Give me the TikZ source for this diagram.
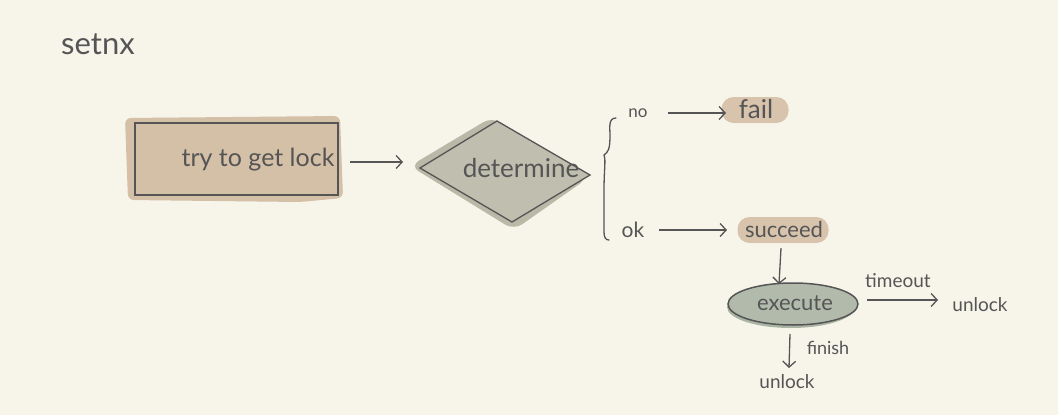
\documentclass[tikz,border=0pt]{standalone}
\usepackage{fontspec}
\setmainfont{Lato}
\usetikzlibrary{arrows.meta,shapes.geometric}
\definecolor{bg}{RGB}{247,245,234}
\definecolor{ink}{RGB}{85,85,85}
\definecolor{tan}{RGB}{212,191,167}
\definecolor{tanlight}{RGB}{216,196,172}
\definecolor{diafill}{RGB}{192,190,174}
\definecolor{diablob}{RGB}{186,184,166}
\definecolor{ellfill}{RGB}{178,186,172}
\definecolor{ellshadow}{RGB}{170,180,164}
\tikzset{
  arr/.style={draw=ink,line width=1.3pt,-{Straight Barb[length=6pt,width=13pt,line width=1.3pt]}},
  lbl/.style={text=ink,inner sep=0pt},
  pill/.style={fill=tanlight,rounded corners=12pt,inner sep=0pt,text=ink},
}
\begin{document}
\begin{tikzpicture}[x=1pt,y=-1pt]
\fill[bg] (0,0) rectangle (1058,415);
\useasboundingbox (0,0) rectangle (1058,415);
\node[lbl,font=\fontsize{31}{31}\selectfont] (title) at (98,44) {setnx};
% box blob
\fill[tan,rounded corners=6pt] (125,118) -- (340,116) -- (343,198) -- (300,202) -- (128,200) -- cycle;
\node[draw=ink,line width=1.5pt,minimum width=203pt,minimum height=72pt,inner sep=0pt] (try) at (236.5,159) {};
\node[lbl,font=\fontsize{25}{25}\selectfont] (trytxt) at (258,160) {try to get lock};
% diamond blob
\fill[diablob,rounded corners=10pt] (410,166) -- (492,117) -- (588,178) -- (514,230) -- cycle;
\coordinate (dl) at (420,168);
\coordinate (dt) at (497,121);
\coordinate (dr) at (590,175);
\coordinate (db) at (512,222);
\fill[diafill] (dl) -- (dt) -- (dr) -- (db) -- cycle;
\draw[ink,line width=1.3pt,line join=miter] (dl) -- (dt) -- (dr) -- (db) -- cycle;
\node[lbl,font=\fontsize{26}{26}\selectfont] (det) at (521,168) {determine};
\coordinate (a1s) at (350,162);
\coordinate (a1e) at (403,162);
\draw[arr] (a1s) -- (a1e);
% brace
\coordinate (bt) at (616,118);
\coordinate (bm) at (604,155);
\coordinate (bb) at (609,240);
\draw[ink,line width=1.3pt,line cap=round] (bt) .. controls (608,118) and (610,128) .. (610,135) .. controls (610,150) and (608,152) .. (bm) .. controls (606,160) and (604,170) .. (604,190) -- (604,232) .. controls (604,238) and (606,240) .. (bb);
% no / fail
\node[lbl,font=\fontsize{17}{17}\selectfont] (no) at (638,113) {no};
\node[pill,minimum width=67pt,minimum height=26pt] (fail) at (755,110) {};
\node[lbl,font=\fontsize{26}{26}\selectfont] (failtxt) at (756,109) {fail};
\coordinate (a2s) at (668,113);
\coordinate (a2e) at (726,113);
\draw[arr] (a2s) -- (a2e);
% ok / succeed
\node[lbl,font=\fontsize{21}{21}\selectfont] (ok) at (633,230) {ok};
\node[pill,minimum width=91pt,minimum height=26pt] (succ) at (783,230) {};
\node[lbl,font=\fontsize{22}{22}\selectfont] (succtxt) at (784,229) {succeed};
\coordinate (a3s) at (659,230);
\coordinate (a3e) at (727,230);
\draw[arr] (a3s) -- (a3e);
% execute
\fill[ellshadow] (791,307) ellipse (64pt and 21pt);
\node[ellipse,draw=ink,fill=ellfill,line width=1.5pt,minimum width=130pt,minimum height=42pt,inner sep=0pt] (exe) at (793,304) {};
\node[lbl,font=\fontsize{22}{22}\selectfont] (exetxt) at (795,303) {execute};
\draw[arr] (succ.south) ++(-2,5) coordinate (a4s) -- ++(-2,36) coordinate (a4e);
% timeout
\node[lbl,font=\fontsize{19}{19}\selectfont] (tmo) at (898,281) {timeout};
\coordinate (a5s) at (867,300);
\coordinate (a5e) at (938,300);
\draw[arr] (a5s) -- (a5e);
\node[lbl,font=\fontsize{19}{19}\selectfont] (unl1) at (980,305) {unlock};
% finish
\coordinate (a6s) at (790,334);
\coordinate (a6e) at (789,368);
\draw[arr] (a6s) -- (a6e);
\node[lbl,font=\fontsize{18}{18}\selectfont] (fin) at (828,348) {finish};
\node[lbl,font=\fontsize{19}{19}\selectfont] (unl2) at (787,382) {unlock};
\end{tikzpicture}
\end{document}
